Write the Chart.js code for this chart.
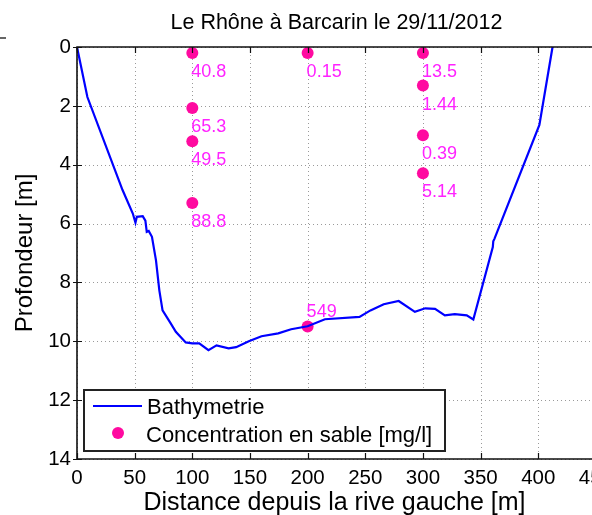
<!DOCTYPE html>
<html><head><meta charset="utf-8">
<script src="https://cdn.jsdelivr.net/npm/chart.js@4.4.0/dist/chart.umd.min.js"></script>
<style>
html,body{margin:0;padding:0;background:#fff;overflow:hidden;width:592px;height:515px;}
#wrap{position:relative;width:620px;height:515px;}
canvas{display:block;}
</style></head><body>
<div id="wrap"><canvas id="c" width="620" height="515"></canvas></div>
<script>
const titleText = 'Le Rhône à Barcarin le 29/11/2012';
const xTitle = 'Distance depuis la rive gauche [m]';
const yTitle = 'Profondeur [m]';
const seriesNames = ['Bathymetrie', 'Concentration en sable [mg/l]'];

const xTicks = [0, 50, 100, 150, 200, 250, 300, 350, 400, 450];
const yTicks = [0, 2, 4, 6, 8, 10, 12, 14];

const bathyX = [0, 9, 39.5, 48.4, 50.7, 51.9, 57, 59.3, 60.5, 62.2, 65, 68.5, 71.4, 74.2, 81.4, 85.7, 94.3, 100, 106, 114, 121, 131.5, 138, 149, 160, 174.5, 185.7, 200, 215, 245, 254.5, 266, 279, 293, 302, 310.5, 319, 327.6, 338, 343.7, 360.6, 361, 362, 401, 412.4];
const bathyY = [0, 1.7, 4.86, 5.66, 5.97, 5.77, 5.75, 5.9, 6.28, 6.25, 6.45, 7.25, 8.27, 8.95, 9.4, 9.68, 10.04, 10.07, 10.07, 10.3, 10.14, 10.24, 10.2, 10.0, 9.83, 9.73, 9.59, 9.49, 9.25, 9.17, 8.95, 8.74, 8.63, 9.0, 8.88, 8.9, 9.12, 9.08, 9.12, 9.26, 6.8, 6.6, 6.52, 2.65, 0];

const sandX = [100, 100, 100, 100, 200, 200, 300, 300, 300, 300];
const sandY = [0.2, 2.07, 3.2, 5.3, 0.2, 9.5, 0.2, 1.31, 3.0, 4.29];
const sandLabels = ['40.8', '65.3', '49.5', '88.8', '0.15', '549', '13.5', '1.44', '0.39', '5.14'];

const FONT = "'Liberation Sans', Arial, Helvetica, sans-serif";
const BLUE = '#0000ff';
const PINK = '#ff0aa0';
const LABEL = '#ff22ff';

const gridPlugin = {
  id: 'dotgrid',
  beforeDatasetsDraw(chart) {
    const {ctx, chartArea: a, scales: {x, y}} = chart;
    ctx.save();
    ctx.strokeStyle = '#9a9a9a';
    ctx.lineWidth = 1;
    ctx.setLineDash([1, 3]);
    ctx.beginPath();
    xTicks.forEach(v => {
      const px = Math.round(x.getPixelForValue(v)) + 0.5;
      ctx.moveTo(px, a.top); ctx.lineTo(px, a.bottom);
    });
    yTicks.forEach(v => {
      const py = Math.round(y.getPixelForValue(v)) + 0.5;
      ctx.moveTo(a.left, py); ctx.lineTo(a.right, py);
    });
    ctx.stroke();
    ctx.restore();
  }
};

const decor = {
  id: 'decor',
  afterDraw(chart) {
    const {ctx, chartArea: a, scales: {x, y}} = chart;
    ctx.save();
    // point labels
    const meta = chart.getDatasetMeta(1);
    ctx.font = '18px ' + FONT;
    ctx.fillStyle = LABEL;
    ctx.textAlign = 'left';
    ctx.textBaseline = 'middle';
    meta.data.forEach((pt, i) => {
      const above = sandY[i] > 9;
      ctx.fillText(sandLabels[i], pt.x - 1, above ? pt.y - 15 : pt.y + 19);
    });
    // axes frame
    ctx.strokeStyle = '#111';
    ctx.lineWidth = 1.6;
    ctx.beginPath();
    ctx.moveTo(a.right, a.top); ctx.lineTo(a.left, a.top); ctx.lineTo(a.left, a.bottom); ctx.lineTo(a.right, a.bottom);
    ctx.stroke();
    // inward ticks
    ctx.lineWidth = 1.2;
    ctx.beginPath();
    xTicks.forEach(v => {
      const px = Math.round(x.getPixelForValue(v)) + 0.5;
      ctx.moveTo(px, a.bottom); ctx.lineTo(px, a.bottom - 6);
      ctx.moveTo(px, a.top); ctx.lineTo(px, a.top + 6);
    });
    yTicks.forEach(v => {
      const py = Math.round(y.getPixelForValue(v)) + 0.5;
      ctx.moveTo(a.left - 4, py); ctx.lineTo(a.left + 5, py);
    });
    ctx.stroke();
    // title
    ctx.fillStyle = '#000';
    ctx.textAlign = 'center';
    ctx.textBaseline = 'alphabetic';
    ctx.font = '21.5px ' + FONT;
    ctx.fillText(titleText, (a.left + a.right) / 2, 29);
    // x title
    ctx.font = '25px ' + FONT;
    ctx.fillText(xTitle, (a.left + a.right) / 2 - 2, 510);
    // y title
    ctx.save();
    ctx.translate(32, (a.top + a.bottom) / 2);
    ctx.rotate(-Math.PI / 2);
    ctx.font = '24px ' + FONT;
    ctx.fillText(yTitle, 0, 0);
    ctx.restore();
    // legend
    const lx = a.left + 7, ly = a.bottom - 69, lw = 361, lh = 61;
    ctx.fillStyle = '#fff';
    ctx.fillRect(lx, ly, lw, lh);
    ctx.strokeStyle = '#222';
    ctx.lineWidth = 2;
    ctx.strokeRect(lx, ly, lw, lh);
    ctx.strokeStyle = BLUE;
    ctx.lineWidth = 2;
    ctx.beginPath();
    ctx.moveTo(lx + 9, ly + 16); ctx.lineTo(lx + 58, ly + 16);
    ctx.stroke();
    ctx.fillStyle = PINK;
    ctx.beginPath();
    ctx.arc(lx + 34, ly + 43, 6, 0, Math.PI * 2);
    ctx.fill();
    ctx.fillStyle = '#000';
    ctx.textAlign = 'left';
    ctx.font = '22px ' + FONT;
    ctx.fillText(seriesNames[0], lx + 63, ly + 24);
    ctx.fillText(seriesNames[1], lx + 62, ly + 52);
    // stray mark from neighbouring figure (top-left)
    ctx.strokeStyle = '#333';
    ctx.lineWidth = 1.5;
    ctx.beginPath();
    ctx.moveTo(0, 38); ctx.lineTo(6, 38);
    ctx.stroke();
    ctx.restore();
  }
};

new Chart(document.getElementById('c'), {
  type: 'scatter',
  data: {
    datasets: [
      {
        label: seriesNames[0],
        data: bathyX.map((v, i) => ({x: v, y: bathyY[i]})),
        showLine: true,
        borderColor: BLUE,
        backgroundColor: BLUE,
        borderWidth: 2.2,
        pointRadius: 0,
        tension: 0,
        fill: false,
        clip: 3
      },
      {
        label: seriesNames[1],
        data: sandX.map((v, i) => ({x: v, y: sandY[i]})),
        backgroundColor: PINK,
        borderWidth: 0,
        pointRadius: 6,
        clip: false
      }
    ]
  },
  options: {
    responsive: false,
    animation: false,
    devicePixelRatio: 1,
    layout: {padding: {top: 47, right: 20, left: 0, bottom: 0}},
    plugins: {legend: {display: false}, title: {display: false}, tooltip: {enabled: false}},
    scales: {
      x: {
        type: 'linear', min: 0, max: 450,
        afterBuildTicks: s => { s.ticks = xTicks.map(v => ({value: v})); },
        afterFit: s => { s.height = 56; },
        grid: {display: false, drawTicks: false},
        border: {display: false},
        ticks: {font: {family: FONT, size: 20.5}, color: '#000', padding: 7, maxRotation: 0, autoSkip: false}
      },
      y: {
        type: 'linear', min: 0, max: 14, reverse: true,
        afterBuildTicks: s => { s.ticks = yTicks.map(v => ({value: v})); },
        afterFit: s => { s.width = 77; },
        grid: {display: false, drawTicks: false},
        border: {display: false},
        ticks: {font: {family: FONT, size: 20.5}, color: '#000', padding: 6, autoSkip: false}
      }
    }
  },
  plugins: [gridPlugin, decor]
});
</script>
</body></html>
